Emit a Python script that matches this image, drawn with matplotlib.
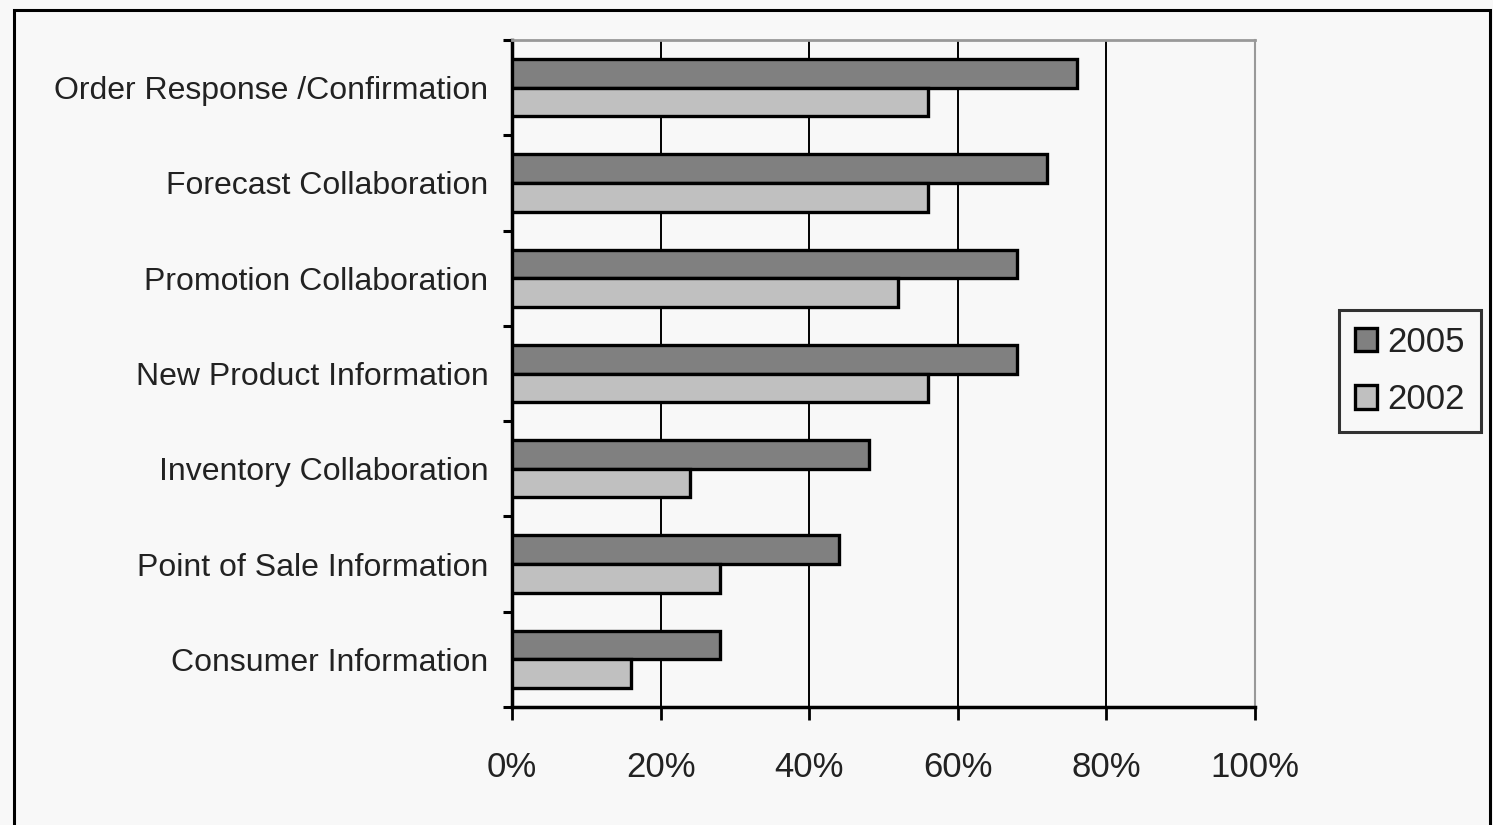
import numpy as np
import matplotlib.pyplot as plt
from matplotlib.patches import Rectangle
from matplotlib.ticker import FuncFormatter

plt.rcParams['font.family'] = ['Liberation Sans', 'DejaVu Sans']

categories = ['Order Response /Confirmation', 'Forecast Collaboration',
              'Promotion Collaboration', 'New Product Information',
              'Inventory Collaboration', 'Point of Sale Information',
              'Consumer Information']
vals_2005 = [76, 72, 68, 68, 48, 44, 28]
vals_2002 = [56, 56, 52, 56, 24, 28, 16]

bg = '#f8f8f8'
fig = plt.figure(figsize=(14.93, 8.25), dpi=100, facecolor=bg)
ax = fig.add_axes([512/1493, 1-707/825, 743/1493, 667/825], facecolor=bg)

n = len(categories)
centers = np.arange(n)[::-1] + 0.5
h = 0.3
ax.barh(centers + h/2, vals_2005, height=h, color='#808080', edgecolor='black',
        linewidth=2.4, label='2005', zorder=3)
ax.barh(centers - h/2, vals_2002, height=h, color='#c0c0c0', edgecolor='black',
        linewidth=2.4, label='2002', zorder=3)

ax.set_xlim(0, 100)
ax.set_ylim(0, n)

ax.set_xticks(np.arange(0, 101, 20))
ax.xaxis.set_major_formatter(FuncFormatter(lambda v, p: f'{int(v)}%'))
ax.tick_params(axis='x', direction='out', length=9.5, width=2, pad=22,
               labelsize=25, labelcolor='#222222')
for x in [20, 40, 60, 80]:
    ax.axvline(x, color='black', linewidth=1.4, zorder=1)

ax.set_yticks(centers)
ax.set_yticklabels(categories)
ax.set_yticks(np.arange(0, n + 1), minor=True)
ax.tick_params(axis='y', which='major', length=0, pad=17, labelsize=23,
               labelcolor='#222222')
ax.tick_params(axis='y', which='minor', direction='out', length=6.5, width=2.2)

ax.spines['left'].set_linewidth(2.5)
ax.spines['bottom'].set_linewidth(2.5)
ax.spines['top'].set_color('#999999')
ax.spines['top'].set_linewidth(2)
ax.spines['right'].set_color('#999999')
ax.spines['right'].set_linewidth(1.5)

leg = fig.legend(loc='center', bbox_to_anchor=(1410/1493, 1-371/825),
                 fontsize=25, frameon=True, fancybox=False, handlelength=0.65,
                 handleheight=0.65, handletextpad=0.3, borderpad=0.45,
                 labelspacing=0.7, borderaxespad=0)
leg.get_frame().set_edgecolor('black')
leg.get_frame().set_linewidth(2.2)
leg.get_frame().set_facecolor(bg)
for t in leg.get_texts():
    t.set_color('#222222')

fig.patches.append(Rectangle((14/1493, -0.05), (1490-14)/1493, 1.05 - 10/825,
                             transform=fig.transFigure, fill=False,
                             edgecolor='black', linewidth=2.2))

fig.savefig('out.png', dpi=100, facecolor=bg)
